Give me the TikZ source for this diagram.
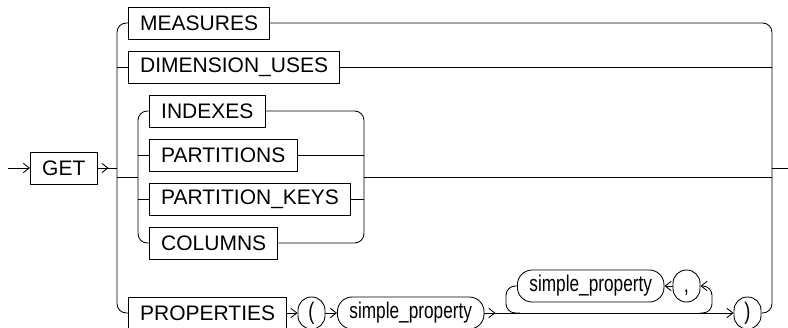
\documentclass[tikz,border=0pt]{standalone}
\usepackage{fontspec}
\setmainfont{Liberation Sans}
\newfontfamily\narrowfont[FakeStretch=0.76]{Liberation Sans}
\usetikzlibrary{arrows.meta}

\begin{document}
\begin{tikzpicture}[x=0.75pt, y=-0.75pt, line width=0.65pt,
  every node/.style={font=\fontsize{15.75}{18}\selectfont},
  kw/.style={draw, rectangle, anchor=west, minimum height=24pt, inner xsep=8.8pt, inner ysep=0pt},
  ref/.style={draw, rounded corners=11pt, anchor=west, minimum height=24pt, inner xsep=9pt, inner ysep=0pt,
              font=\narrowfont\fontsize{17}{19}\selectfont},
  sym/.style={draw, rounded corners=10pt, minimum width=20.25pt, minimum height=24pt, inner sep=0pt,
              text height=13pt, text depth=3.8pt, font=\narrowfont\fontsize{18}{20}\selectfont},
  arr/.style={-{Straight Barb[length=4.5pt,width=7pt]}},
  rc/.style={rounded corners=7pt}]

\useasboundingbox (0,0) rectangle (788,328);

% --- junctions ---
\coordinate (start) at (8,168);
\coordinate (jL) at (117,168);
\coordinate (iL) at (138,177);
\coordinate (iR) at (364,177);
\coordinate (jR) at (772,168);
\coordinate (stop) at (788,168);

% --- keywords ---
\node[kw] (get) at (30,168) {GET};
\node[kw] (measures) at (128,23) {MEASURES};
\node[kw] (dimuses) at (128,67) {DIMENSION\_USES};
\node[kw] (indexes) at (149,111) {INDEXES};
\node[kw] (partitions) at (149,155) {PARTITIONS};
\node[kw] (pkeys) at (149,199) {PARTITION\_KEYS};
\node[kw] (columns) at (149,243) {COLUMNS};
\node[kw] (properties) at (128,313) {PROPERTIES};

% --- property list ---
\node[sym] (lparen) at (311.5,313) {(};
\node[ref] (sp1) at (337,313) {simple\_property};
\node[ref] (sp2) at (517,286) {simple\_property};
\node[sym] (comma) at (686.5,286) {,};
\node[sym] (rparen) at (747.5,313) {)};

% entry
\draw[arr] (start) -- (get);
\draw[arr] (get.east) -- ++(11,0);
\draw (get.east) -- (jL);

% outer choice, left side
\draw[rc] (jL) |- (measures.west);
\draw[rc] (jL) |- (properties.west);
\draw (jL |- dimuses.west) -- (dimuses.west);
\draw (jL |- iL) -- (iL);

% inner choice
\draw[rc] (iL) |- (indexes.west);
\draw[rc] (iL) |- (columns.west);
\draw (iL |- partitions.west) -- (partitions.west);
\draw (iL |- pkeys.west) -- (pkeys.west);
\draw[rc] (indexes.east) -| (iR);
\draw[rc] (columns.east) -| (iR);
\draw (partitions.east) -- (partitions.east -| iR);
\draw (pkeys.east) -- (pkeys.east -| iR);
\draw (iR) -- (iR -| jR);

% outer choice, right side
\draw[rc] (measures.east) -| (jR);
\draw (dimuses.east) -- (dimuses.east -| jR);
\draw[rc] (rparen.east) -| (jR);
\draw (jR) -- (stop);

% PROPERTIES ( ... )
\draw[arr] (properties) -- (lparen);
\draw[arr] (lparen) -- (sp1);
\draw[arr] (sp1.east) -- ++(11,0);
\draw[arr] (sp1.east) -- (rparen);

% repeat loop
\coordinate (loopA) at (520,313);
\coordinate (loopL) at (506,286);
\coordinate (loopB) at (700,313);
\coordinate (loopR) at (712,286);
\draw[rc] (loopA) -| (loopL) -- (sp2.west);
\draw[arr, rc] (loopB) -| (loopR) -- (comma);
\draw[arr] (comma) -- (sp2);

\end{tikzpicture}
\end{document}
